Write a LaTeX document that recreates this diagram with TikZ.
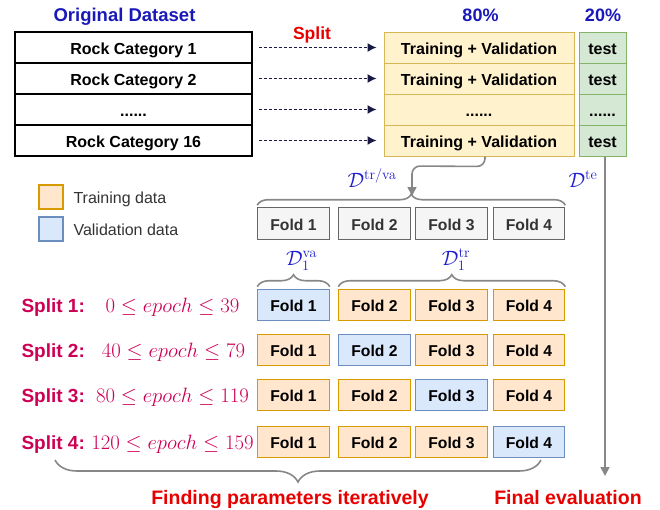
\documentclass[tikz,border=0pt]{standalone}
\usepackage[no-math]{fontspec}
\setmainfont{Liberation Sans}
\usetikzlibrary{arrows.meta,decorations.pathreplacing,calc}
\newcommand{\sixdots}{......}
\definecolor{navy}{RGB}{25,25,70}
\definecolor{ttl}{RGB}{25,25,185}
\definecolor{dblue}{RGB}{30,30,205}
\definecolor{redt}{RGB}{232,0,0}
\definecolor{crim}{RGB}{205,0,85}
\definecolor{brgray}{RGB}{135,135,135}
\definecolor{ylwfill}{RGB}{255,242,204}
\definecolor{ylwdraw}{RGB}{214,182,86}
\definecolor{grnfill}{RGB}{213,232,212}
\definecolor{grndraw}{RGB}{130,179,102}
\definecolor{orfill}{RGB}{255,230,204}
\definecolor{ordraw}{RGB}{215,155,0}
\definecolor{blfill}{RGB}{218,232,252}
\definecolor{bldraw}{RGB}{108,142,191}
\definecolor{gyfill}{RGB}{245,245,245}
\definecolor{gydraw}{RGB}{102,102,102}
\definecolor{gytext}{RGB}{51,51,51}
\tikzset{
  fsz/.style={font=\fontsize{#1}{#1}\selectfont\bfseries},
  rowbox/.style={minimum height=31,inner sep=0,text height=14,text depth=0,fsz=16},
  tbl/.style={rowbox,draw=black,line width=1.2pt,fill=white,minimum width=237},
  ylw/.style={rowbox,draw=ylwdraw,line width=1pt,fill=ylwfill,minimum width=190},
  grn/.style={rowbox,draw=grndraw,line width=1pt,fill=grnfill,minimum width=47},
  foldbox/.style={line width=1.1pt,minimum width=71.5,minimum height=31.5,inner sep=0,text height=13,text depth=0,fsz=15.7},
  gyf/.style={foldbox,draw=gydraw,fill=gyfill,text=gytext},
  trf/.style={foldbox,draw=ordraw,fill=orfill},
  vaf/.style={foldbox,draw=bldraw,fill=blfill},
  dasharr/.style={navy,line width=1.3pt,dash pattern=on 3pt off 2pt,-{Latex[length=9pt,width=9pt]},shorten <=6pt,shorten >=7pt},
  garr/.style={brgray,line width=1.6pt,-{Triangle[length=9pt,width=9pt]}},
  brc/.style={brgray,line width=1.6pt,decorate},
  dlab/.style={anchor=base,text=dblue,font=\fontsize{22}{26}\selectfont},
  splab/.style={anchor=base west,text=crim,fsz=19},
  spmath/.style={anchor=base,text=crim,font=\fontsize{20}{24}\selectfont},
  legtxt/.style={anchor=base west,text=gytext,font=\fontsize{16}{19}\selectfont},
}
\begin{document}
\begin{tikzpicture}[x=1pt,y=-1pt]
\useasboundingbox (0,0) rectangle (660,509);

% titles
\node[anchor=base,text=ttl,fsz=18.5] (tOrig) at (124.5,21) {Original Dataset};
\node[anchor=base,text=ttl,fsz=18] (t80) at (480.5,21) {80\%};
\node[anchor=base,text=ttl,fsz=18] (t20) at (603,21) {20\%};
\node[anchor=base,text=redt,fsz=17.5] (tSplit) at (312,39) {Split};

% table, yellow, green
\foreach \i/\y/\t/\u/\v in {1/47.5/Rock Category 1/Training + Validation/test,
                           2/78.5/Rock Category 2/Training + Validation/test,
                           3/109.5/\sixdots/\sixdots/\sixdots,
                           4/140.5/Rock Category 16/Training + Validation/test}{
  \node[tbl] (r\i) at (133.5,\y) {\t};
  \node[ylw] (y\i) at (479,\y) {\u};
  \node[grn] (g\i) at (602.5,\y) {\v};
  \draw[dasharr] (r\i.east) -- (y\i.west);
}

% folds
\foreach \r/\y in {0/223.5,1/305,2/350,3/395,4/442}{
  \foreach \c/\x in {1/293.5,2/374.5,3/451.5,4/529}{
    \ifnum\r=0
      \node[gyf] (f\r\c) at (\x,\y) {Fold \c};
    \else\ifnum\r=\c
      \node[vaf] (f\r\c) at (\x,\y) {Fold \c};
    \else
      \node[trf] (f\r\c) at (\x,\y) {Fold \c};
    \fi\fi
  }
}

% connector from training+validation to folds
\coordinate (tip0) at (412,196);
\draw[garr,rounded corners=8pt] ($(y4.south)+(6,0)$) -- ++(0,10) -- ($(tip0)+(0,-30)$) -- (tip0);
% test arrow
\coordinate (fe) at (605,476);
\draw[garr] ($(g4.south)+(2.5,0)$) -- (fe);

% braces
\draw[brc,decoration={brace,amplitude=11pt}] ($(f01.north west)+(0,-2)$) -- ($(f04.north east)+(0,-2)$);
\draw[brc,decoration={brace,amplitude=12pt}] ($(f11.north west)+(0,-2)$) -- ($(f11.north east)+(0,-2)$);
\draw[brc,decoration={brace,amplitude=12pt}] ($(f12.north west)+(0,-2)$) -- ($(f14.north east)+(0,-2)$);
\draw[brc,decoration={brace,mirror,amplitude=22pt}] (55,460) -- (541,460);

% D labels
\node[dlab] (dtrva) at (372,187) {$\mathcal{D}^{\mathrm{tr/va}}$};
\node[dlab] (dte) at (583,187) {$\mathcal{D}^{\mathrm{te}}$};
\node[dlab] (d1va) at (301.5,265) {$\mathcal{D}_1^{\mathrm{va}}$};
\node[dlab] (d1tr) at (456,265) {$\mathcal{D}_1^{\mathrm{tr}}$};

% legend
\node[trf,minimum width=24,minimum height=24] (lg1) at (51,197) {};
\node[vaf,minimum width=24,minimum height=24] (lg2) at (51,229) {};
\node[legtxt] (lt1) at (70,203) {Training data};
\node[legtxt] (lt2) at (70,235) {Validation data};

% split labels
\node[splab] (s1) at (18,312) {Split 1:};
\node[spmath] (m1) at (172.5,312) {$0\le epoch\le 39$};
\node[splab] (s2) at (18,357) {Split 2:};
\node[spmath] (m2) at (173.5,357) {$40\le epoch\le 79$};
\node[splab] (s3) at (18,402) {Split 3:};
\node[spmath] (m3) at (172.5,402) {$80\le epoch\le 119$};
\node[splab] (s4) at (18,449) {Split 4:};
\node[spmath] (m4) at (172.5,449) {$120\le epoch\le 159$};

% bottom texts
\node[anchor=base,text=redt,fsz=19.5] (bt1) at (290,504) {Finding parameters iteratively};
\node[anchor=base,text=redt,fsz=19.5] (bt2) at (568,504) {Final evaluation};
\end{tikzpicture}
\end{document}
